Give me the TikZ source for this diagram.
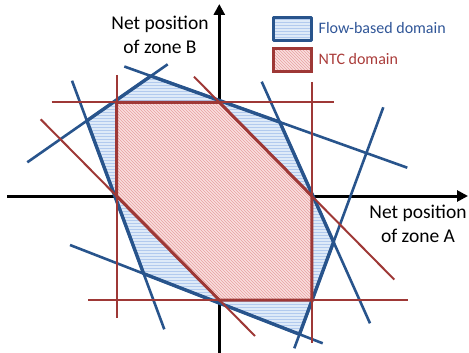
\documentclass[tikz,border=0pt]{standalone}
\usepackage{fontspec}
\setmainfont{Carlito}
\usetikzlibrary{arrows.meta,patterns}
\definecolor{fbblue}{RGB}{40,84,140}
\definecolor{ntcred}{RGB}{158,56,54}
\definecolor{fbfill}{RGB}{222,234,248}
\definecolor{fbpat}{RGB}{178,202,238}
\definecolor{ntcfill}{RGB}{249,223,223}
\definecolor{ntcpat}{RGB}{232,160,160}
\definecolor{fbtext}{RGB}{47,85,151}
\definecolor{ntctext}{RGB}{170,60,58}
\begin{document}
\begin{tikzpicture}[x=1pt,y=-1pt,
  axis/.style={line width=3pt,-{Triangle[length=11pt,width=11pt]}},
  fbline/.style={fbblue,line width=2.6pt},
  ntcline/.style={ntcred,line width=2pt},
  fbfillst/.style={preaction={fill=fbfill},pattern=horizontal lines,pattern color=fbpat},
  ntcfillst/.style={preaction={fill=ntcfill},pattern=north west lines,pattern color=ntcpat},
  fbborder/.style={draw=fbblue,line width=3.4pt,line join=round},
  ntcborder/.style={draw=ntcred,line width=3pt,line join=miter},
  axlabel/.style={font=\fontsize{19.5}{24}\selectfont,align=center},
  legtext/.style={font=\fontsize{16}{19}\selectfont,anchor=base west}]
\useasboundingbox (0,0) rectangle (469,353);

% axes
\coordinate (xs) at (7,196);
\coordinate (xe) at (468,196);
\coordinate (ys) at (219.3,353);
\coordinate (ye) at (219.3,4);
\draw[axis] (xs) -- (xe);
\draw[axis] (ys) -- (ye);

% blue (flow-based) constraint lines
\coordinate (b1a) at (124.3,66.5);  \coordinate (b1b) at (407.3,167.7);
\coordinate (b2a) at (27.3,162.3);  \coordinate (b2b) at (167.7,64.3);
\coordinate (b3a) at (72,80.7);     \coordinate (b3b) at (164.3,329.3);
\coordinate (b4a) at (70,245);      \coordinate (b4b) at (322.7,343.3);
\coordinate (b5a) at (261.7,81.7);  \coordinate (b5b) at (370,323.3);
\coordinate (b6a) at (383.3,107.3); \coordinate (b6b) at (294.3,348.3);

\coordinate (p12) at (intersection of b1a--b1b and b2a--b2b);
\coordinate (p15) at (intersection of b1a--b1b and b5a--b5b);
\coordinate (p56) at (intersection of b5a--b5b and b6a--b6b);
\coordinate (p46) at (intersection of b4a--b4b and b6a--b6b);
\coordinate (p34) at (intersection of b3a--b3b and b4a--b4b);
\coordinate (p23) at (intersection of b2a--b2b and b3a--b3b);

% red (NTC) lines
\coordinate (r1a) at (51.7,102.3);  \coordinate (r1b) at (334.3,102.3);
\coordinate (r2a) at (88.3,300);    \coordinate (r2b) at (408.3,300);
\coordinate (r3a) at (116.5,75);    \coordinate (r3b) at (116.5,317.7);
\coordinate (r4a) at (311.8,82);    \coordinate (r4b) at (311.8,342.7);
\coordinate (r5a) at (194,76.7);    \coordinate (r5b) at (394.3,279.6);
\coordinate (r6a) at (40.7,119.3);  \coordinate (r6b) at (255,336);

\coordinate (nA) at (116.5,102.3);
\coordinate (nB) at (219.3,102.3);
\coordinate (nC) at (311.8,196);
\coordinate (nD) at (311.8,300);
\coordinate (nE) at (219.3,300);
\coordinate (nF) at (116.5,196);

% fills
\path[fbfillst] (p12) -- (p15) -- (p56) -- (p46) -- (p34) -- (p23) -- cycle;
\path[ntcfillst] (nA) -- (nB) -- (nC) -- (nD) -- (nE) -- (nF) -- cycle;

% blue lines and border
\draw[fbline] (b1a) -- (b1b);
\draw[fbline] (b2a) -- (b2b);
\draw[fbline] (b3a) -- (b3b);
\draw[fbline] (b4a) -- (b4b);
\draw[fbline] (b5a) -- (b5b);
\draw[fbline] (b6a) -- (b6b);
\path[fbborder] (p12) -- (p15) -- (p56) -- (p46) -- (p34) -- (p23) -- cycle;

% red lines and border
\draw[ntcline] (r1a) -- (r1b);
\draw[ntcline] (r2a) -- (r2b);
\draw[ntcline] (r3a) -- (r3b);
\draw[ntcline] (r4a) -- (r4b);
\draw[ntcline] (r5a) -- (r5b);
\draw[ntcline] (r6a) -- (r6b);
\path[ntcborder] (nA) -- (nB) -- (nC) -- (nD) -- (nE) -- (nF) -- cycle;

% axis labels
\node[axlabel] (labB) at (160,34.7) {Net position\\of zone B};
\node[axlabel] (labA) at (418,224.2) {Net position\\of zone A};

% legend
\node[fbfillst,fbborder,line width=3pt,minimum width=38.4pt,minimum height=22.7pt,inner sep=0pt] (legfb) at (292.5,28.7) {};
\node[ntcfillst,ntcborder,line width=3pt,minimum width=38.4pt,minimum height=22.7pt,inner sep=0pt] (legntc) at (292.5,59.7) {};
\node[legtext,text=fbtext,inner sep=0pt] (legfbt) at (318.5,33.8) {Flow-based domain};
\node[legtext,text=ntctext,inner sep=0pt] (legntct) at (318.5,64.6) {NTC domain};
\end{tikzpicture}
\end{document}
